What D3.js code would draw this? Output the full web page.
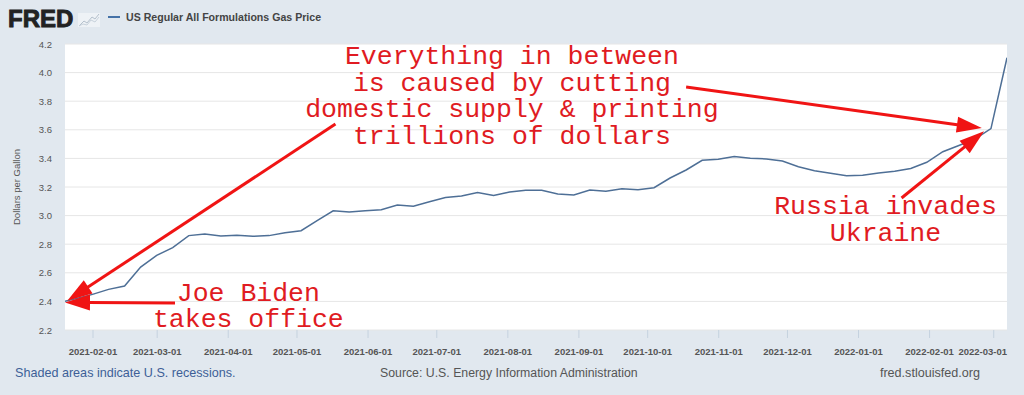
<!DOCTYPE html>
<html>
<head>
<meta charset="utf-8">
<script src="https://cdn.jsdelivr.net/npm/d3@7"></script>
<style>
  body { margin: 0; background: #e1e8ef; }
  svg { display: block; font-family: "Liberation Sans", Arial, sans-serif; }
</style>
</head>
<body>
<script>
// weekly gas price, dollars per gallon
var dates = ["2021-01-18","2021-01-25","2021-02-01","2021-02-08","2021-02-15","2021-02-22",
  "2021-03-01","2021-03-08","2021-03-15","2021-03-22","2021-03-29","2021-04-05","2021-04-12",
  "2021-04-19","2021-04-26","2021-05-03","2021-05-10","2021-05-17","2021-05-24","2021-05-31",
  "2021-06-07","2021-06-14","2021-06-21","2021-06-28","2021-07-05","2021-07-12","2021-07-19",
  "2021-07-26","2021-08-02","2021-08-09","2021-08-16","2021-08-23","2021-08-30","2021-09-06",
  "2021-09-13","2021-09-20","2021-09-27","2021-10-04","2021-10-11","2021-10-18","2021-10-25",
  "2021-11-01","2021-11-08","2021-11-15","2021-11-22","2021-11-29","2021-12-06","2021-12-13",
  "2021-12-20","2021-12-27","2022-01-03","2022-01-10","2022-01-17","2022-01-24","2022-01-31",
  "2022-02-07","2022-02-14","2022-02-21","2022-02-28","2022-03-07"];
var prices = [2.394,2.420,2.449,2.484,2.507,2.640,
  2.722,2.776,2.860,2.871,2.858,2.862,2.855,
  2.860,2.880,2.894,2.965,3.034,3.025,3.034,
  3.041,3.074,3.065,3.097,3.126,3.137,3.162,
  3.140,3.165,3.177,3.177,3.151,3.144,3.179,
  3.170,3.188,3.181,3.195,3.263,3.319,3.387,
  3.394,3.414,3.401,3.396,3.382,3.342,3.314,
  3.296,3.279,3.283,3.298,3.310,3.330,3.373,
  3.447,3.490,3.535,3.608,4.104];

var xTicks = ["2021-02-01","2021-03-01","2021-04-01","2021-05-01","2021-06-01","2021-07-01",
  "2021-08-01","2021-09-01","2021-10-01","2021-11-01","2021-12-01","2022-01-01","2022-02-01","2022-03-01"];
var yTicks = [2.2, 2.4, 2.6, 2.8, 3.0, 3.2, 3.4, 3.6, 3.8, 4.0, 4.2];

var seriesName = "US Regular All Formulations Gas Price";

var parse = d3.utcParse("%Y-%m-%d");
var data = dates.map(function(d, i) { return {date: parse(d), value: prices[i]}; });

var margin = {top: 44, right: 17, bottom: 65, left: 65},
    width = 1024 - margin.left - margin.right,
    height = 395 - margin.top - margin.bottom;

var svg = d3.select("body")
  .append("svg")
    .attr("width", 1024)
    .attr("height", 395);

// header: logo + legend
var head = svg.append("g");
head.append("text")
    .attr("x", 8).attr("y", 27)
    .style("font-size", "24px").style("font-weight", "bold")
    .style("fill", "#222").style("stroke", "#222").style("stroke-width", 0.9)
    .text("FRED");
var icon = head.append("g").attr("transform", "translate(78,13)")
    .style("fill", "none").style("stroke-width", 1);
icon.append("rect").attr("width", 22).attr("height", 14).style("fill", "#eef2f6").style("stroke", "none");
icon.append("path").attr("d", "M1,13 L6,8 L9,10 L14,4 L17,6 L21,1").style("stroke", "#b4c0cc");
icon.append("path").attr("d", "M1,13 L5,11 L9,12 L13,7 L17,9 L21,4").style("stroke", "#c8d2dc");
head.append("line")
    .attr("x1", 108).attr("x2", 120).attr("y1", 17).attr("y2", 17)
    .style("stroke", "#4572a7").style("stroke-width", 2);
head.append("text")
    .attr("x", 126).attr("y", 21)
    .style("font-size", "10.6px").style("font-weight", "bold").style("fill", "#444")
    .text(seriesName);

var g = svg.append("g")
    .attr("transform", "translate(" + margin.left + "," + margin.top + ")");

g.append("rect")
    .attr("width", width).attr("height", height)
    .style("fill", "#fff");

var x = d3.scaleUtc()
    .domain([parse("2021-01-20"), parse("2022-03-07")])
    .range([0, width]);
var y = d3.scaleLinear()
    .domain([2.2, 4.2])
    .range([height, 0]);

// grid
g.append("g")
  .selectAll("line")
  .data(yTicks)
  .enter()
  .append("line")
    .attr("x1", 0).attr("x2", width)
    .attr("y1", function(d) { return y(d); })
    .attr("y2", function(d) { return y(d); })
    .style("stroke", "#e6e6e6").style("stroke-width", 1);

// y axis labels
var yAxis = g.append("g")
    .call(d3.axisLeft(y).tickValues(yTicks).tickFormat(d3.format(".1f")).tickSize(0).tickPadding(13));
yAxis.select(".domain").remove();
yAxis.selectAll("text")
    .style("font-size", "9.5px").style("fill", "#555").style("font-family", "Liberation Sans, Arial");

// x axis
var xAxis = g.append("g")
    .attr("transform", "translate(0," + height + ")")
    .call(d3.axisBottom(x).tickValues(xTicks.map(parse)).tickFormat(d3.utcFormat("%Y-%m-%d")).tickSize(8).tickPadding(10));
xAxis.select(".domain").remove();
xAxis.selectAll("line").style("stroke", "#c5d2df");
xAxis.selectAll("text")
    .style("font-size", "9.5px").style("fill", "#555").style("font-weight", "bold")
    .style("font-family", "Liberation Sans, Arial")
    .each(function() {
      // keep labels inside the plot width
      var t = d3.select(this);
      var tx = d3.select(this.parentNode).attr("transform").match(/translate\(([^,]+)/)[1] * 1;
      var w = this.getComputedTextLength();
      if (tx + w / 2 > width) t.attr("text-anchor", "end").attr("x", width - tx);
    });

// y title
svg.append("text")
    .attr("transform", "rotate(-90)")
    .attr("x", -(margin.top + height / 2))
    .attr("y", 20)
    .style("text-anchor", "middle")
    .style("font-size", "9.5px").style("fill", "#555")
    .text("Dollars per Gallon");

// the series
g.append("clipPath").attr("id", "clip")
  .append("rect").attr("width", width).attr("height", height);
g.append("path")
    .datum(data)
    .attr("clip-path", "url(#clip)")
    .attr("d", d3.line()
      .x(function(d) { return x(d.date); })
      .y(function(d) { return y(d.value); }))
    .style("fill", "none")
    .style("stroke", "#4e6f96")
    .style("stroke-width", 1.5);

// annotations (placed in data coordinates)
var arrows = [
  {from: ["2021-05-18", 3.64], to: ["2021-01-21", 2.405]},
  {from: ["2021-03-09", 2.389], to: ["2021-01-20", 2.393]},
  {from: ["2021-10-18", 3.90], to: ["2022-02-24", 3.612]},
  {from: ["2022-01-20", 3.123], to: ["2022-02-25", 3.59]}
];
var notes = [
  {at: ["2021-08-03", 4.06], lines: ["Everything in between", "is caused by cutting", "domestic supply & printing", "trillions of dollars"]},
  {at: ["2021-04-10", 2.403], lines: ["Joe Biden", "takes office"]},
  {at: ["2022-01-13", 3.011], lines: ["Russia invades", "Ukraine"]}
];

var ann = g.append("g");
arrows.forEach(function(a) {
  var x1 = x(parse(a.from[0])), y1 = y(a.from[1]);
  var x2 = x(parse(a.to[0])), y2 = y(a.to[1]);
  var ang = Math.atan2(y2 - y1, x2 - x1);
  var hl = 25, hw = 8;
  var bx = x2 - hl * Math.cos(ang), by = y2 - hl * Math.sin(ang);
  ann.append("line")
    .attr("x1", x1).attr("y1", y1).attr("x2", bx + 2 * Math.cos(ang)).attr("y2", by + 2 * Math.sin(ang))
    .style("stroke", "#f01414").style("stroke-width", 3);
  ann.append("polygon")
    .attr("points", [
      [x2, y2],
      [bx + hw * Math.sin(ang), by - hw * Math.cos(ang)],
      [bx - hw * Math.sin(ang), by + hw * Math.cos(ang)]
    ].map(function(p) { return p.join(","); }).join(" "))
    .style("fill", "#f01414");
});

// one text per line so every line stays its own element
notes.forEach(function(n) {
  n.lines.forEach(function(l, i) {
    ann.append("text")
      .attr("x", x(parse(n.at[0])))
      .attr("y", y(n.at[1]) + i * 26.5)
      .style("text-anchor", "middle")
      .style("font-family", "Liberation Mono, Courier New, monospace")
      .style("font-size", "26.5px")
      .style("fill", "#e01b22")
      .text(l);
  });
});

// footer
svg.append("text")
    .attr("x", 15).attr("y", 377)
    .style("font-size", "12.6px").style("fill", "#3d5f97")
    .text("Shaded areas indicate U.S. recessions.");
svg.append("text")
    .attr("x", 380).attr("y", 377)
    .style("font-size", "12.3px").style("fill", "#555")
    .text("Source: U.S. Energy Information Administration");
svg.append("text")
    .attr("x", 980).attr("y", 377)
    .style("text-anchor", "end")
    .style("font-size", "12.6px").style("fill", "#555")
    .text("fred.stlouisfed.org");
</script>
</body>
</html>
